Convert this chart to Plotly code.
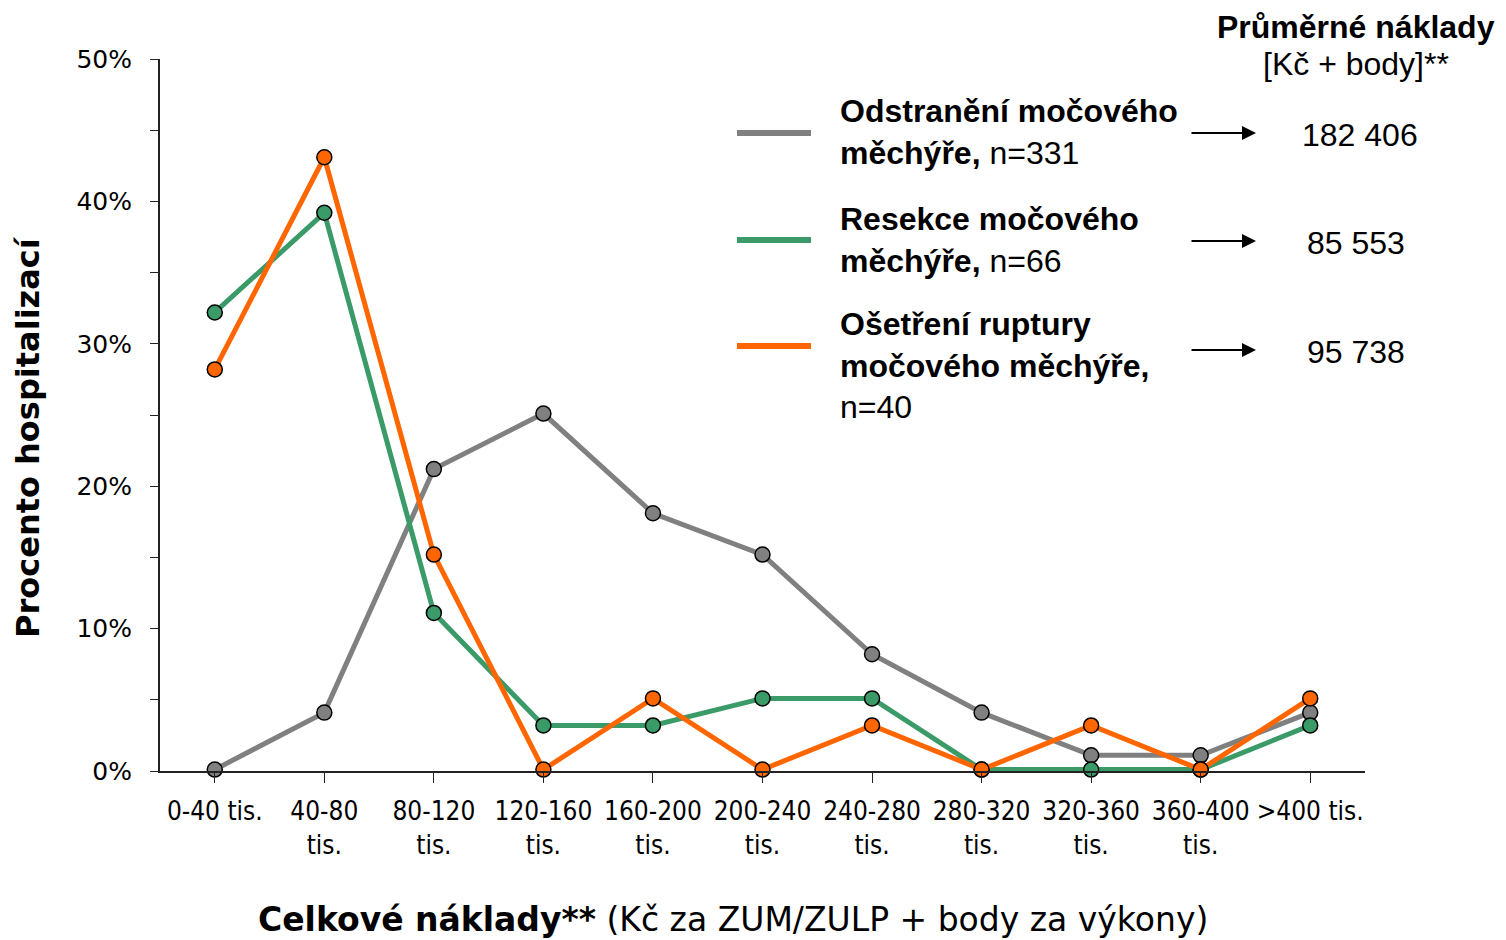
import plotly.graph_objects as go

categories = ["0-40 tis.", "40-80<br>tis.", "80-120<br>tis.", "120-160<br>tis.", "160-200<br>tis.",
              "200-240<br>tis.", "240-280<br>tis.", "280-320<br>tis.", "320-360<br>tis.",
              "360-400<br>tis.", ">400 tis."]

odstraneni = [0.001, 0.041, 0.212, 0.251, 0.181, 0.152, 0.082, 0.041, 0.011, 0.011, 0.041]
resekce = [0.322, 0.392, 0.111, 0.032, 0.032, 0.051, 0.051, 0.001, 0.001, 0.001, 0.032]
osetreni = [0.282, 0.431, 0.152, 0.001, 0.051, 0.001, 0.032, 0.001, 0.032, 0.001, 0.051]

series_names = ["Odstranění močového<br>měchýře,", "Resekce močového<br>měchýře,",
                "Ošetření ruptury<br>močového měchýře,"]
series_n = ["n=331", "n=66", "n=40"]
avg_costs = ["182 406", "85 553", "95 738"]
colors = ["#808080", "#3A9A68", "#FF6600"]

fig = go.Figure()
for vals, col in zip([odstraneni, resekce, osetreni], colors):
    fig.add_trace(go.Scatter(
        x=list(range(len(categories))), y=vals, mode="lines+markers",
        line=dict(color=col, width=5),
        marker=dict(size=15, color=col, line=dict(color="black", width=1.5)),
        showlegend=False, cliponaxis=False))

# page is offset by 8px (body margin)
OFF = 8
W, H = 1506 - OFF, 940 - OFF
PL, PR, PT, PB = 160, 1365, 59, 771  # plot area in page pixels

def px(x):
    return (x - PL) / (PR - PL)

def py(y):
    return (PB - y) / (PB - PT)

fig.update_layout(
    width=W, height=H,
    margin=dict(l=PL - OFF, r=1506 - PR, t=PT - OFF, b=940 - PB, pad=0),
    paper_bgcolor="white", plot_bgcolor="white",
    xaxis=dict(
        range=[-0.5, 10.5], tickmode="array", tickvals=list(range(len(categories))),
        ticktext=categories, tickson="boundaries", ticks="outside", ticklen=10,
        tickcolor="#222", showline=True, linecolor="#222", linewidth=2,
        showgrid=False, zeroline=False, ticklabelstandoff=6,
        tickfont=dict(family="Liberation Sans Narrow, Arial Narrow, DejaVu Sans Condensed, sans-serif",
                      size=26, color="black")),
    yaxis=dict(
        range=[0, 0.5], dtick=0.1, tickformat=".0%", ticks="outside", ticklen=8,
        tickcolor="#222", showline=True, linecolor="#222", linewidth=2,
        showgrid=False, zeroline=False, ticklabelstandoff=13,
        minor=dict(dtick=0.05, ticks="outside", ticklen=8, tickcolor="#222"),
        tickfont=dict(family="DejaVu Sans, Verdana, sans-serif", size=25, color="black")),
)

ann = []

def text_ann(x, y, text, size, family="Liberation Sans, Arial", xanchor="center", **kw):
    ann.append(dict(x=px(x), y=py(y), xref="paper", yref="paper", text=text,
                    xanchor=xanchor, yanchor="middle", showarrow=False,
                    font=dict(family=family, size=size, color="black"), **kw))

# axis titles
text_ann(28, 437, "<b>Procento hospitalizací</b>", 32, family="DejaVu Sans", textangle=-90)
text_ann(733, 919, "<b>Celkové náklady**</b> (Kč za ZUM/ZULP + body za výkony)", 33, family="DejaVu Sans")
# header
text_ann(1356, 27, "<b>Průměrné náklady</b>", 32)
text_ann(1356, 64, "[Kč + body]**", 32)

legend_y = [133, 240, 346]
text_mid = [132, 240, 365]
value_y = [135, 243, 352]
value_x = [1360, 1356, 1356]
shapes = []
for i in range(3):
    shapes.append(dict(type="line", xref="paper", yref="paper", x0=px(737), x1=px(811),
                       y0=py(legend_y[i]), y1=py(legend_y[i]), line=dict(color=colors[i], width=6)))
    txt = "<b>" + series_names[i] + "</b>"
    if i == 2:
        txt += "<br>" + series_n[i]
    else:
        txt += " " + series_n[i]
    text_ann(838, text_mid[i], txt, 32, xanchor="left", align="left")
    ann.append(dict(x=px(1256), y=py(value_y[i] - 2), ax=-66, ay=0,
                    xref="paper", yref="paper", axref="pixel", ayref="pixel", text="",
                    showarrow=True, arrowhead=2, arrowsize=1.4, arrowwidth=2, arrowcolor="black"))
    text_ann(value_x[i], value_y[i], avg_costs[i], 32)

fig.update_layout(annotations=ann, shapes=shapes)
fig.write_html("out.html")
